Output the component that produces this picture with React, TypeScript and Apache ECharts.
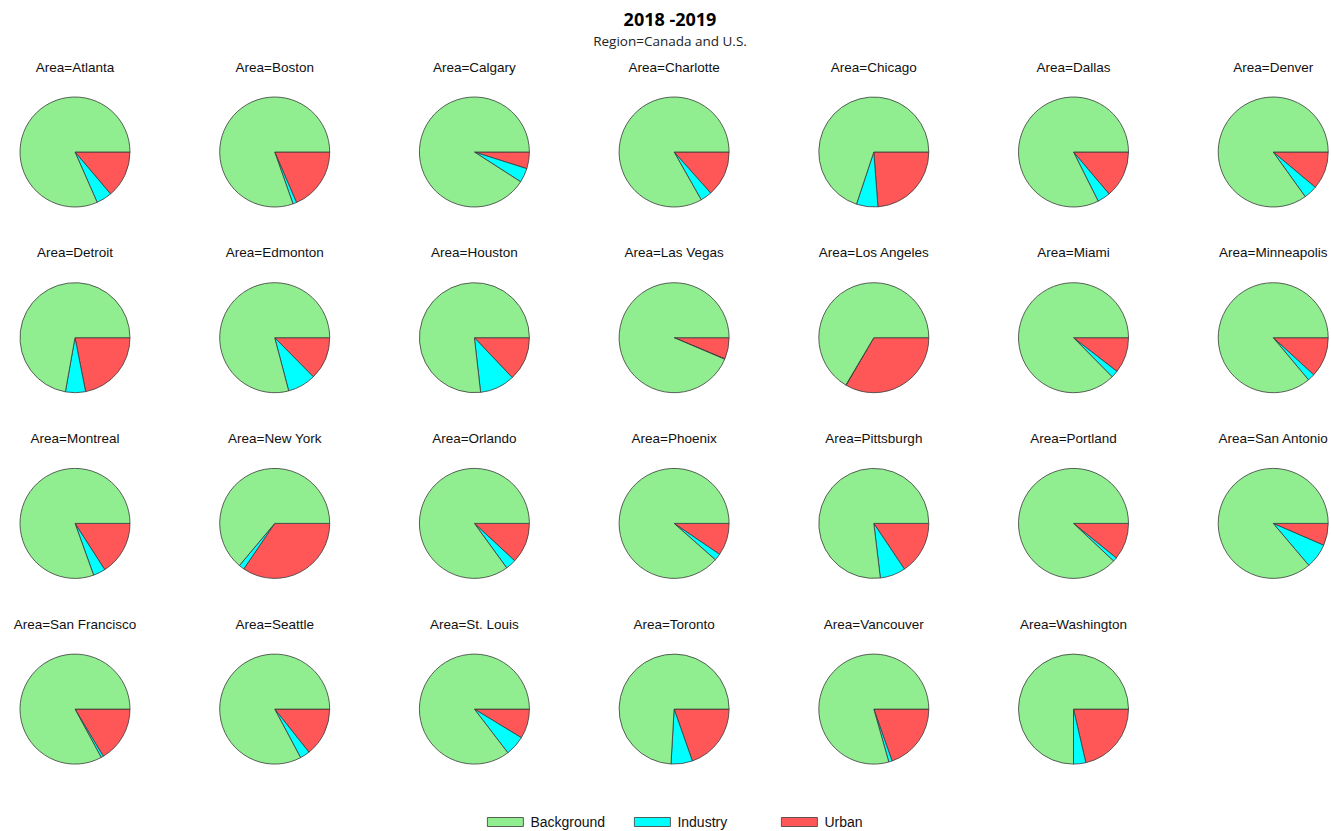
import React, { useEffect, useRef } from "react";
import * as echarts from "echarts";

const areas = [
  "Atlanta", "Boston", "Calgary", "Charlotte", "Chicago", "Dallas", "Denver",
  "Detroit", "Edmonton", "Houston", "Las Vegas", "Los Angeles", "Miami", "Minneapolis",
  "Montreal", "New York", "Orlando", "Phoenix", "Pittsburgh", "Portland", "San Antonio",
  "San Francisco", "Seattle", "St. Louis", "Toronto", "Vancouver", "Washington",
];
// percent shares
const urban = [
  13.8, 18.5, 4.9, 13.4, 23.8, 13.8, 11.1,
  21.9, 12.6, 12.9, 6.3, 33.4, 10.5, 11.8,
  15.9, 34.5, 11.9, 9.5, 15.6, 10.8, 6.5,
  16.4, 14.3, 8.7, 19.6, 19.6, 21.4,
];
const industry = [
  4.6, 1.1, 4.2, 3.4, 6.3, 3.8, 4.0,
  5.9, 8.3, 10.3, 0.1, 0.1, 2.1, 2.1,
  3.6, 1.6, 3.1, 2.0, 7.5, 1.2, 7.3,
  0.7, 2.9, 5.9, 6.3, 1.0, 3.6,
];
const background = urban.map((u, i) => 100 - u - industry[i]);

const categories = ["Background", "Industry", "Urban"];
const colors: Record<string, string> = {
  Background: "#90EE90",
  Industry: "#00FFFF",
  Urban: "#FF5757",
};

export default function App() {
  const ref = useRef<HTMLDivElement>(null);
  useEffect(() => {
    if (!ref.current) return;
    const chart = echarts.init(ref.current, undefined, { renderer: "svg" });
    const colX = (c: number) => 75 + c * 199.7;
    const rowY = (r: number) => 152 + r * 185.7;
    const series: any[] = [];
    const graphics: any[] = [
      {
        type: "text",
        x: 670,
        y: 19,
        style: {
          text: "2018 -2019",
          font: "bold 18px 'Open Sans'",
          fill: "#000",
          textAlign: "center",
          textVerticalAlign: "middle",
          align: "center",
          verticalAlign: "middle",
        },
      },
      {
        type: "text",
        x: 670,
        y: 41,
        style: {
          text: "Region=Canada and U.S.",
          font: "13.5px 'Open Sans'",
          fill: "#222",
          textAlign: "center",
          textVerticalAlign: "middle",
          align: "center",
          verticalAlign: "middle",
        },
      },
    ];
    areas.forEach((a, i) => {
      const cx = colX(i % 7);
      const cy = rowY(Math.floor(i / 7));
      graphics.push({
        type: "text",
        x: cx,
        y: cy - 85,
        style: {
          text: "Area=" + a,
          font: "13.5px 'Liberation Sans', Arial",
          fill: "#111",
          textAlign: "center",
          textVerticalAlign: "middle",
          align: "center",
          verticalAlign: "middle",
        },
      });
      series.push({
        type: "pie",
        name: a,
        center: [cx, cy],
        radius: 55,
        startAngle: 0,
        clockwise: true,
        silent: true,
        label: { show: false },
        labelLine: { show: false },
        itemStyle: { borderColor: "#3a3a3a", borderWidth: 0.8 },
        data: [
          { name: "Urban", value: urban[i], itemStyle: { color: colors.Urban } },
          { name: "Industry", value: industry[i], itemStyle: { color: colors.Industry } },
          { name: "Background", value: background[i], itemStyle: { color: colors.Background } },
        ],
      });
    });
    const legendLefts = [487, 634, 781];
    const legends = categories.map((c, k) => ({
      data: [c],
      left: legendLefts[k],
      top: 815,
      padding: 0,
      orient: "horizontal",
      itemWidth: 36,
      itemHeight: 9,
      selectedMode: false,
      icon: "rect",
      itemStyle: { borderColor: "#3a3a3a", borderWidth: 0.8 },
      textStyle: {
        fontFamily: "'Liberation Sans', Arial",
        fontSize: 14,
        color: "#111",
        padding: [0, 0, 0, 2],
      },
    }));
    chart.setOption({
      animation: false,
      backgroundColor: "#fff",
      legend: legends,
      graphic: graphics,
      series,
    });
    return () => chart.dispose();
  }, []);
  return (
    <div
      ref={ref}
      style={{ position: "fixed", left: 0, top: 0, width: 1331, height: 831 }}
    />
  );
}
